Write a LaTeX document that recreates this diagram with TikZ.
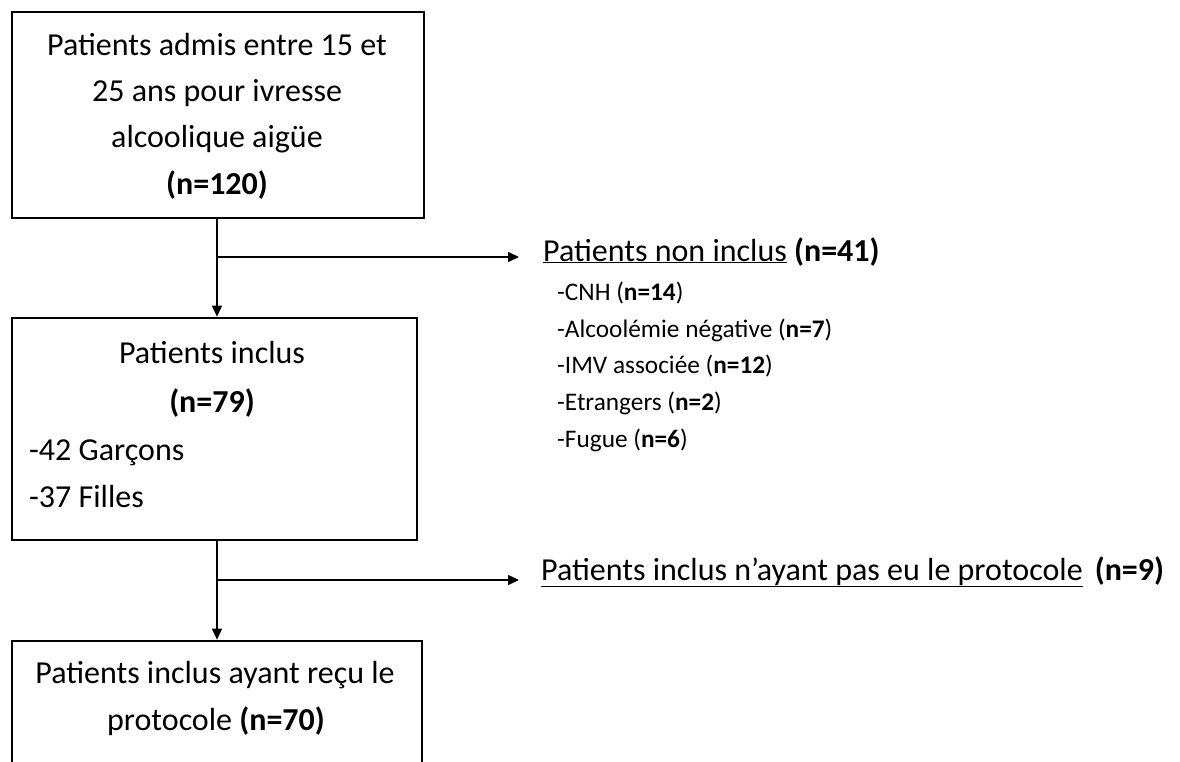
\documentclass[tikz,border=0pt]{standalone}
\usepackage{fontspec}
\setmainfont{Carlito}
\usetikzlibrary{arrows.meta}
\begin{document}
\begin{tikzpicture}[x=1pt,y=-1pt,
  box/.style={draw=black,line width=2.6pt,inner sep=0pt},
  big/.style={font=\fontsize{32}{46}\selectfont,inner sep=0pt,anchor=base},
  bigl/.style={big,anchor=base west},
  small/.style={font=\fontsize{25.3}{27}\selectfont,inner sep=0pt,anchor=base west},
  conn/.style={line width=1.5pt,-{Triangle[length=11pt,width=10pt]}}]
\useasboundingbox (0,0) rectangle (1180,761);
\fill[white] (0,0) rectangle (1180,761);
\clip (0,0) rectangle (1180,761);
% boxes
\node[box,minimum width=412pt,minimum height=206pt] (box1) at (218,115) {};
\node[box,minimum width=405pt,minimum height=222pt] (box2) at (214.5,429) {};
\node[box,minimum width=410pt,minimum height=159pt] (box3) at (217,720.5) {};
% box texts
\node[big] (t1a) at (217,55) {Patients admis entre 15 et};
\node[big] (t1b) at (217,101) {25 ans pour ivresse};
\node[big] (t1c) at (217,147) {alcoolique aigüe};
\node[big] (t1d) at (217,194) {\textbf{(n=120)}};
\node[big] (t2a) at (212,363) {Patients inclus};
\node[big] (t2b) at (212,412) {\textbf{(n=79)}};
\node[bigl] (t2c) at (29,460) {-42 Garçons};
\node[bigl] (t2d) at (29,507) {-37 Filles};
\node[big] (t3a) at (215,683) {Patients inclus ayant reçu le};
\node[big] (t3b) at (216,730) {protocole \textbf{(n=70)}};
% side texts
\node[bigl] (h1) at (543,261) {\underline{Patients non inclus} \textbf{(n=41)}};
\node[small] (i1) at (557,300) {-CNH (\textbf{n=14})};
\node[small] (i2) at (557,337) {-Alcoolémie négative (\textbf{n=7})};
\node[small] (i3) at (557,373) {-IMV associée (\textbf{n=12})};
\node[small] (i4) at (557,410) {-Etrangers (\textbf{n=2})};
\node[small] (i5) at (557,447) {-Fugue (\textbf{n=6})};
\node[bigl] (h2) at (541,580) {\underline{Patients inclus n’ayant pas eu le protocole}\hspace{12pt}\textbf{(n=9)}};
% connectors
\coordinate (j1) at (217,257);
\coordinate (e1) at (519,257);
\coordinate (j2) at (217,580);
\coordinate (e2) at (519,580);
\draw[conn] (j1 |- box1.south) -- (j1 |- box2.north);
\draw[conn] (j1) -- (e1);
\draw[conn] (j2 |- box2.south) -- (j2 |- box3.north);
\draw[conn] (j2) -- (e2);
\end{tikzpicture}
\end{document}
